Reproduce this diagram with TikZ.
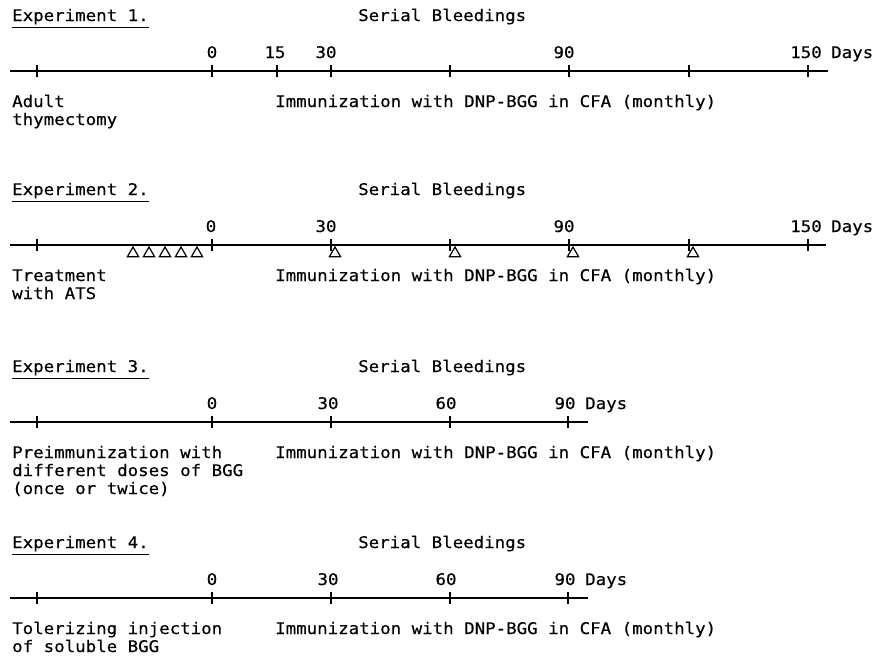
\documentclass[tikz,border=0pt]{standalone}
\usepackage{fontspec}
\usetikzlibrary{shapes.geometric}
\newfontfamily\tw[FakeStretch=1.09,FakeBold=0.4]{DejaVu Sans Mono}
\tikzset{
  txt/.style={font=\tw\fontsize{16}{18}\selectfont, inner sep=0pt, anchor=base west},
  num/.style={font=\tw\fontsize{16}{18}\selectfont, inner sep=0pt, anchor=base},
  axisline/.style={line width=1.5pt},
  tickmark/.style={line width=1.1pt},
  uline/.style={line width=1pt},
  tri/.style={draw, regular polygon, regular polygon sides=3, minimum size=13pt, inner sep=0pt, line width=1.2pt}
}
\begin{document}
\begin{tikzpicture}[x=1pt,y=-1pt]
\useasboundingbox (0,0) rectangle (881,662);
% ---------------- Experiment 1
\node[txt] (e1) at (12,21) {Experiment 1.};
\draw[uline] ([yshift=-3pt]e1.south west) -- ([yshift=-3pt]e1.south east);
\node[txt] (s1) at (358,21) {Serial Bleedings};
\coordinate (a1s) at (10,71);
\coordinate (a1e) at (828,71);
\draw[axisline] (a1s) -- (a1e);
\foreach \x in {37,212,277,331,450,569,689,808} \draw[tickmark] (\x,65) -- (\x,77);
\node[num] (n1a) at (212,58) {0};
\node[num] (n1b) at (275,58) {15};
\node[num] (n1c) at (326,58) {30};
\node[num] (n1d) at (564,58) {90};
\node[num] (n1e) at (806,58) {150};
\node[txt] (d1) at (831,58) {Days};
\node[txt] (l1a) at (12,107) {Adult};
\node[txt] (l1b) at (12,125) {thymectomy};
\node[txt] (r1) at (275,107) {Immunization with DNP-BGG in CFA (monthly)};
% ---------------- Experiment 2
\node[txt] (e2) at (12,195) {Experiment 2.};
\draw[uline] ([yshift=-3pt]e2.south west) -- ([yshift=-3pt]e2.south east);
\node[txt] (s2) at (358,195) {Serial Bleedings};
\coordinate (a2s) at (10,245);
\coordinate (a2e) at (826,245);
\draw[axisline] (a2s) -- (a2e);
\foreach \x in {37,212,331,450,569,689,808} \draw[tickmark] (\x,239) -- (\x,251);
\node[num] (n2a) at (211,232) {0};
\node[num] (n2b) at (326,232) {30};
\node[num] (n2d) at (564,232) {90};
\node[num] (n2e) at (806,232) {150};
\node[txt] (d2) at (831,232) {Days};
\foreach \x/\n in {133/t1,149/t2,165/t3,181/t4,197/t5,335/t6,455/t7,573/t8,693/t9}
  \node[tri] (\n) at (\x,253.5) {};
\node[txt] (l2a) at (12,281) {Treatment};
\node[txt] (l2b) at (12,299) {with ATS};
\node[txt] (r2) at (275,281) {Immunization with DNP-BGG in CFA (monthly)};
% ---------------- Experiment 3
\node[txt] (e3) at (12,372) {Experiment 3.};
\draw[uline] ([yshift=-3pt]e3.south west) -- ([yshift=-3pt]e3.south east);
\node[txt] (s3) at (358,372) {Serial Bleedings};
\coordinate (a3s) at (10,422);
\coordinate (a3e) at (588,422);
\draw[axisline] (a3s) -- (a3e);
\foreach \x in {37,212,331,450,568} \draw[tickmark] (\x,416) -- (\x,428);
\node[num] (n3a) at (212,409) {0};
\node[num] (n3b) at (328,409) {30};
\node[num] (n3c) at (446,409) {60};
\node[num] (n3d) at (565,409) {90};
\node[txt] (d3) at (585,409) {Days};
\node[txt] (l3a) at (12,458) {Preimmunization with};
\node[txt] (l3b) at (12,476) {different doses of BGG};
\node[txt] (l3c) at (12,494) {(once or twice)};
\node[txt] (r3) at (275,458) {Immunization with DNP-BGG in CFA (monthly)};
% ---------------- Experiment 4
\node[txt] (e4) at (12,548) {Experiment 4.};
\draw[uline] ([yshift=-3pt]e4.south west) -- ([yshift=-3pt]e4.south east);
\node[txt] (s4) at (358,548) {Serial Bleedings};
\coordinate (a4s) at (10,598);
\coordinate (a4e) at (588,598);
\draw[axisline] (a4s) -- (a4e);
\foreach \x in {37,212,331,450,568} \draw[tickmark] (\x,592) -- (\x,604);
\node[num] (n4a) at (212,585) {0};
\node[num] (n4b) at (328,585) {30};
\node[num] (n4c) at (446,585) {60};
\node[num] (n4d) at (565,585) {90};
\node[txt] (d4) at (585,585) {Days};
\node[txt] (l4a) at (12,634) {Tolerizing injection};
\node[txt] (l4b) at (12,652) {of soluble BGG};
\node[txt] (r4) at (275,634) {Immunization with DNP-BGG in CFA (monthly)};
\end{tikzpicture}
\end{document}
